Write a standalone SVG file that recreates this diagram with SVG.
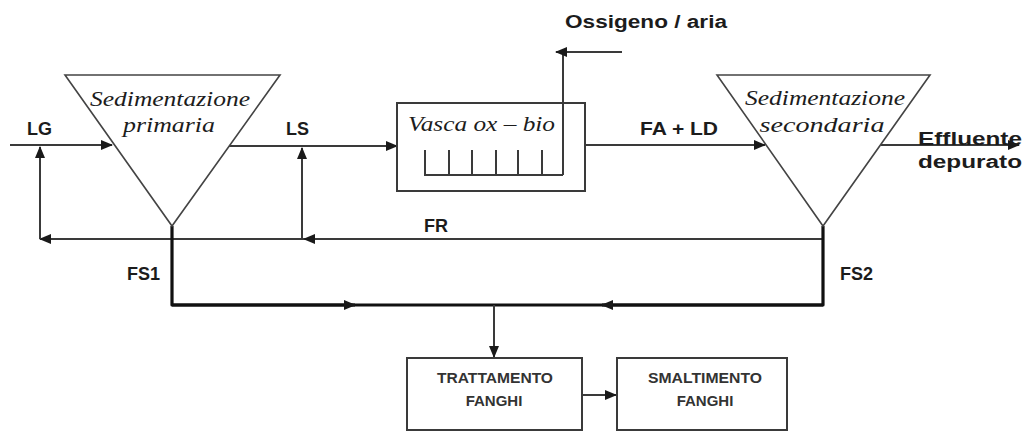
<svg xmlns="http://www.w3.org/2000/svg" width="1027" height="434" viewBox="0 0 1027 434">
<defs>
<marker id="ah" markerWidth="12" markerHeight="10" refX="11" refY="5" orient="auto" markerUnits="userSpaceOnUse">
<path d="M0,0 L12,5 L0,10 Z" fill="#1a1a1a"/>
</marker>
<style>
.ln{fill:none;stroke:#3a3a3a;stroke-width:2}
.tk{fill:none;stroke:#111;stroke-width:3.2;stroke-linejoin:round}
.sh{fill:none;stroke:#444;stroke-width:1.6}
.bx{fill:none;stroke:#3a3a3a;stroke-width:2}
.lb{font-family:"Liberation Sans",Arial,sans-serif;font-weight:bold;font-size:18px;fill:#1c1c1c}
.it{font-family:"Liberation Serif","Times New Roman",serif;font-style:italic;font-size:22px;fill:#1c1c1c}
.sm{font-family:"Liberation Sans",Arial,sans-serif;font-weight:bold;font-size:15px;fill:#333}
</style>
</defs>
<rect width="1027" height="434" fill="#fff"/>

<g id="connectors">
<line class="ln" x1="10" y1="145" x2="112" y2="145" marker-end="url(#ah)"/>
<line class="ln" x1="229" y1="146" x2="397" y2="146" marker-end="url(#ah)"/>
<line class="ln" x1="585" y1="145" x2="765" y2="145" marker-end="url(#ah)"/>
<line class="ln" x1="881" y1="145" x2="1019" y2="145" marker-end="url(#ah)"/>
<line class="ln" x1="823" y1="239" x2="304" y2="239" marker-end="url(#ah)"/>
<line class="ln" x1="304" y1="239" x2="40" y2="239" marker-end="url(#ah)"/>
<line class="ln" x1="40" y1="239" x2="40" y2="147" marker-end="url(#ah)"/>
<line class="ln" x1="302" y1="239" x2="302" y2="148" marker-end="url(#ah)"/>
<line class="ln" x1="563" y1="175" x2="563" y2="52"/>
<line class="ln" x1="622" y1="52" x2="556" y2="52" marker-end="url(#ah)"/>
<polyline class="tk" points="172,226 172,305 823,305 823,226"/>
<line class="tk" x1="172" y1="305" x2="355" y2="305" marker-end="url(#ah)"/>
<line class="tk" x1="823" y1="305" x2="602" y2="305" marker-end="url(#ah)"/>
<line class="ln" x1="494" y1="305" x2="494" y2="357" marker-end="url(#ah)"/>
<line class="ln" x1="582" y1="395" x2="616" y2="395" marker-end="url(#ah)"/>
</g>

<g id="sed-primaria">
<polygon class="sh" points="65,75 280,75 172,226"/>
<text class="it" x="170" y="106" text-anchor="middle" textLength="160" lengthAdjust="spacingAndGlyphs">Sedimentazione</text>
<text class="it" x="169" y="132" text-anchor="middle" textLength="92" lengthAdjust="spacingAndGlyphs">primaria</text>
</g>

<g id="vasca">
<rect class="bx" x="397" y="103" width="188" height="88"/>
<text class="it" x="408" y="131" textLength="147" lengthAdjust="spacingAndGlyphs">Vasca ox – bio</text>
<polyline class="ln" points="425,150 425,175 563,175"/>
<line class="ln" x1="449" y1="150" x2="449" y2="175"/>
<line class="ln" x1="472" y1="150" x2="472" y2="175"/>
<line class="ln" x1="496" y1="150" x2="496" y2="175"/>
<line class="ln" x1="518" y1="150" x2="518" y2="175"/>
<line class="ln" x1="542" y1="150" x2="542" y2="175"/>
</g>

<g id="sed-secondaria">
<polygon class="sh" points="717,75 930,75 823,226"/>
<text class="it" x="825" y="105" text-anchor="middle" textLength="160" lengthAdjust="spacingAndGlyphs">Sedimentazione</text>
<text class="it" x="822" y="132" text-anchor="middle" textLength="125" lengthAdjust="spacingAndGlyphs">secondaria</text>
</g>

<g id="trattamento">
<rect class="bx" x="407" y="358" width="175" height="72"/>
<text class="sm" x="495" y="383" text-anchor="middle" textLength="116" lengthAdjust="spacingAndGlyphs">TRATTAMENTO</text>
<text class="sm" x="494" y="406" text-anchor="middle">FANGHI</text>
</g>

<g id="smaltimento">
<rect class="bx" x="617" y="358" width="170" height="72"/>
<text class="sm" x="705" y="383" text-anchor="middle" textLength="114" lengthAdjust="spacingAndGlyphs">SMALTIMENTO</text>
<text class="sm" x="705" y="406" text-anchor="middle">FANGHI</text>
</g>

<g id="labels">
<text class="lb" x="27" y="135">LG</text>
<text class="lb" x="286" y="135">LS</text>
<text class="lb" x="424" y="232">FR</text>
<text class="lb" x="127" y="280">FS1</text>
<text class="lb" x="840" y="280">FS2</text>
<text class="lb" x="640" y="135" textLength="78" lengthAdjust="spacingAndGlyphs">FA + LD</text>
<text class="lb" x="565" y="28" font-size="21" textLength="162" lengthAdjust="spacingAndGlyphs">Ossigeno / aria</text>
<text class="lb" x="918" y="145" font-size="20" textLength="104" lengthAdjust="spacingAndGlyphs">Effluente</text>
<text class="lb" x="918" y="168" font-size="20" textLength="104" lengthAdjust="spacingAndGlyphs">depurato</text>
</g>
</svg>
